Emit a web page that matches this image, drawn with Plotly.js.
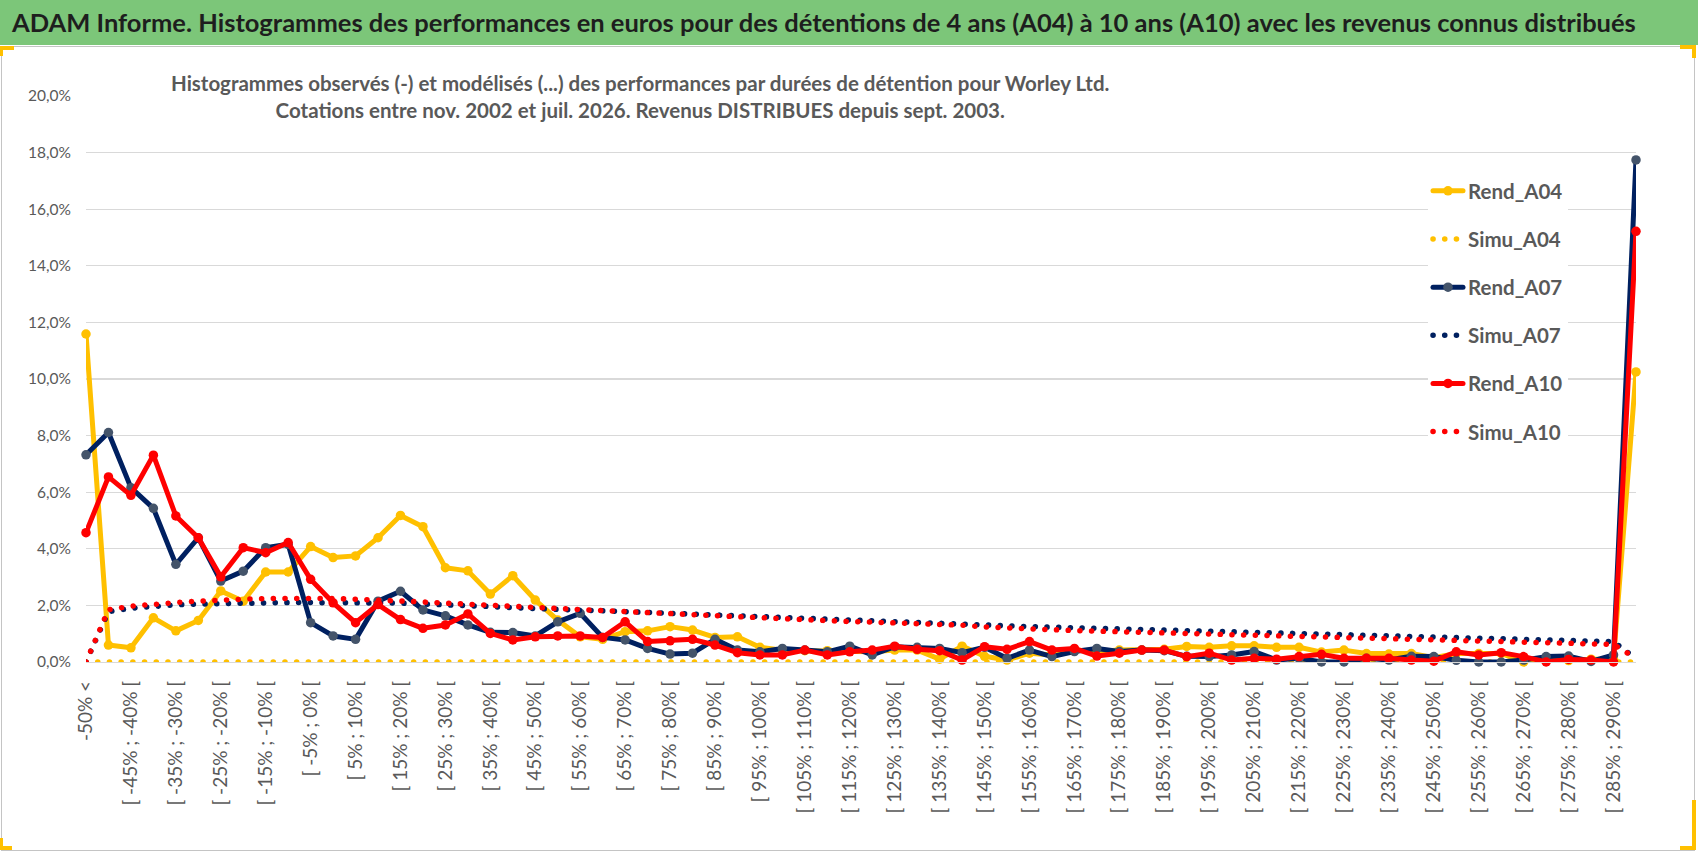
<!DOCTYPE html>
<html>
<head>
<meta charset="utf-8">
<script src="https://cdn.plot.ly/plotly-3.0.1.min.js"></script>
<style>
  html, body { margin: 0; padding: 0; background: #ffffff; }
  #wrap { position: relative; width: 1698px; height: 854px; overflow: hidden; background: #ffffff; }
  #band { position: absolute; left: 0; top: 0; width: 1698px; height: 45px; background: #7cc679; }
  #frame { position: absolute; left: 1px; top: 46px; width: 1692px; height: 803px; border: 1.5px solid #c4c4c4; }
  .corner { position: absolute; background: #ffc000; }
  #chart { position: absolute; left: 0; top: 0; width: 1698px; height: 854px; }
  .js-line { stroke-linecap: round; stroke-linejoin: round; }
</style>
</head>
<body>
<div id="wrap">
  <div id="band"></div>
  <div id="frame"></div>
  <div class="corner" style="left:0;top:46px;width:14px;height:4px;"></div>
  <div class="corner" style="left:0;top:46px;width:3px;height:10px;"></div>
  <div class="corner" style="left:1680px;top:45px;width:16px;height:4px;"></div>
  <div class="corner" style="left:1692px;top:45px;width:4px;height:13px;"></div>
  <div class="corner" style="left:0;top:846px;width:12px;height:4px;"></div>
  <div class="corner" style="left:0;top:838px;width:3px;height:12px;"></div>
  <div class="corner" style="left:1680px;top:846px;width:16px;height:4px;"></div>
  <div class="corner" style="left:1692px;top:800px;width:4px;height:50px;"></div>
  <div id="chart"></div>
</div>
<script>
const categories = [
  "-50% <", "[ -50% ; -45% [", "[ -45% ; -40% [", "[ -40% ; -35% [", "[ -35% ; -30% [",
  "[ -30% ; -25% [", "[ -25% ; -20% [", "[ -20% ; -15% [", "[ -15% ; -10% [", "[ -10% ; -5% [",
  "[ -5% ; 0% [", "[ 0% ; 5% [", "[ 5% ; 10% [", "[ 10% ; 15% [", "[ 15% ; 20% [",
  "[ 20% ; 25% [", "[ 25% ; 30% [", "[ 30% ; 35% [", "[ 35% ; 40% [", "[ 40% ; 45% [",
  "[ 45% ; 50% [", "[ 50% ; 55% [", "[ 55% ; 60% [", "[ 60% ; 65% [", "[ 65% ; 70% [",
  "[ 70% ; 75% [", "[ 75% ; 80% [", "[ 80% ; 85% [", "[ 85% ; 90% [", "[ 90% ; 95% [",
  "[ 95% ; 100% [", "[ 100% ; 105% [", "[ 105% ; 110% [", "[ 110% ; 115% [", "[ 115% ; 120% [",
  "[ 120% ; 125% [", "[ 125% ; 130% [", "[ 130% ; 135% [", "[ 135% ; 140% [", "[ 140% ; 145% [",
  "[ 145% ; 150% [", "[ 150% ; 155% [", "[ 155% ; 160% [", "[ 160% ; 165% [", "[ 165% ; 170% [",
  "[ 170% ; 175% [", "[ 175% ; 180% [", "[ 180% ; 185% [", "[ 185% ; 190% [", "[ 190% ; 195% [",
  "[ 195% ; 200% [", "[ 200% ; 205% [", "[ 205% ; 210% [", "[ 210% ; 215% [", "[ 215% ; 220% [",
  "[ 220% ; 225% [", "[ 225% ; 230% [", "[ 230% ; 235% [", "[ 235% ; 240% [", "[ 240% ; 245% [",
  "[ 245% ; 250% [", "[ 250% ; 255% [", "[ 255% ; 260% [", "[ 260% ; 265% [", "[ 265% ; 270% [",
  "[ 270% ; 275% [", "[ 275% ; 280% [", "[ 280% ; 285% [", "[ 285% ; 290% [", "> 290%"
];

// values in %
const rendA04 = [
  11.59, 0.60, 0.50, 1.56, 1.10, 1.47, 2.51, 2.15, 3.18, 3.18,
  4.08, 3.69, 3.75, 4.39, 5.18, 4.78, 3.33, 3.22, 2.40, 3.05,
  2.19, 1.48, 0.89, 0.80, 1.07, 1.10, 1.25, 1.13, 0.87, 0.89,
  0.52, 0.42, 0.40, 0.40, 0.40, 0.36, 0.42, 0.42, 0.10, 0.56,
  0.20, 0.07, 0.31, 0.25, 0.42, 0.37, 0.42, 0.42, 0.45, 0.55,
  0.52, 0.57, 0.57, 0.52, 0.52, 0.35, 0.42, 0.30, 0.28, 0.30,
  0.15, 0.30, 0.30, 0.30, 0.00, 0.10, 0.05, 0.10, 0.10, 10.25
];
const simuA04 = [
  0, 0, 0, 0, 0, 0, 0, 0, 0, 0,
  0, 0, 0, 0, 0, 0, 0, 0, 0, 0,
  0, 0, 0, 0, 0, 0, 0, 0, 0, 0,
  0, 0, 0, 0, 0, 0, 0, 0, 0, 0,
  0, 0, 0, 0, 0, 0, 0, 0, 0, 0,
  0, 0, 0, 0, 0, 0, 0, 0, 0, 0,
  0, 0, 0, 0, 0, 0, 0, 0, 0, 0
];
const rendA07 = [
  7.32, 8.11, 6.16, 5.43, 3.45, 4.39, 2.86, 3.21, 4.04, 4.16,
  1.39, 0.92, 0.80, 2.15, 2.50, 1.84, 1.63, 1.31, 1.05, 1.04,
  0.92, 1.42, 1.72, 0.87, 0.78, 0.48, 0.28, 0.31, 0.80, 0.42,
  0.36, 0.48, 0.42, 0.36, 0.56, 0.25, 0.54, 0.52, 0.48, 0.33,
  0.52, 0.13, 0.42, 0.19, 0.37, 0.48, 0.37, 0.42, 0.40, 0.20,
  0.19, 0.25, 0.37, 0.07, 0.13, 0.00, 0.00, 0.13, 0.07, 0.20,
  0.19, 0.06, 0.00, 0.00, 0.07, 0.19, 0.21, 0.02, 0.25, 17.74
];
const simuA07 = [
  0.00, 1.78, 1.90, 1.97, 2.02, 2.05, 2.07, 2.08, 2.09, 2.10,
  2.10, 2.10, 2.10, 2.10, 2.08, 2.05, 2.03, 2.00, 1.96, 1.92,
  1.88, 1.85, 1.83, 1.81, 1.78, 1.74, 1.70, 1.67, 1.63, 1.60,
  1.57, 1.54, 1.51, 1.49, 1.46, 1.43, 1.41, 1.38, 1.36, 1.33,
  1.30, 1.27, 1.25, 1.23, 1.21, 1.18, 1.16, 1.14, 1.11, 1.09,
  1.07, 1.05, 1.03, 1.01, 0.98, 0.96, 0.94, 0.93, 0.91, 0.89,
  0.87, 0.85, 0.84, 0.83, 0.81, 0.79, 0.77, 0.76, 0.72, 0.12
];
const rendA10 = [
  4.57, 6.54, 5.89, 7.31, 5.16, 4.39, 3.01, 4.04, 3.86, 4.22,
  2.92, 2.09, 1.39, 2.03, 1.50, 1.19, 1.31, 1.70, 1.01, 0.78,
  0.89, 0.92, 0.92, 0.87, 1.42, 0.72, 0.75, 0.80, 0.60, 0.33,
  0.25, 0.25, 0.42, 0.25, 0.36, 0.42, 0.56, 0.45, 0.40, 0.07,
  0.54, 0.45, 0.72, 0.42, 0.48, 0.21, 0.31, 0.42, 0.42, 0.19,
  0.31, 0.07, 0.13, 0.10, 0.19, 0.27, 0.13, 0.13, 0.13, 0.07,
  0.03, 0.36, 0.25, 0.33, 0.19, 0.00, 0.09, 0.07, 0.00, 15.22
];
const simuA10 = [
  0.00, 1.85, 1.97, 2.05, 2.10, 2.15, 2.20, 2.22, 2.24, 2.25,
  2.25, 2.24, 2.22, 2.20, 2.15, 2.12, 2.08, 2.05, 2.03, 1.97,
  1.93, 1.89, 1.86, 1.82, 1.78, 1.75, 1.72, 1.68, 1.64, 1.60,
  1.56, 1.53, 1.50, 1.47, 1.43, 1.41, 1.39, 1.37, 1.35, 1.30,
  1.24, 1.20, 1.17, 1.14, 1.11, 1.09, 1.07, 1.05, 1.04, 1.00,
  0.97, 0.94, 0.92, 0.90, 0.88, 0.86, 0.84, 0.82, 0.80, 0.78,
  0.77, 0.76, 0.74, 0.72, 0.70, 0.67, 0.66, 0.64, 0.62, 0.13
];
const yTicks = [0, 2, 4, 6, 8, 10, 12, 14, 16, 18, 20];
const yTickLabels = ["0,0%", "2,0%", "4,0%", "6,0%", "8,0%", "10,0%", "12,0%", "14,0%", "16,0%", "18,0%", "20,0%"];

const titleText = "ADAM Informe. Histogrammes des performances en euros pour des détentions de 4 ans (A04) à 10 ans (A10) avec les revenus connus distribués";
const subTitle = "Histogrammes observés (-) et modélisés (...) des performances par durées de détention pour Worley Ltd.<br>Cotations entre nov. 2002 et juil. 2026. Revenus DISTRIBUES depuis sept. 2003.";

const xIdx = categories.map((c, i) => i);
const labelIdx = xIdx.filter(i => i % 2 === 0 && i < categories.length - 1);
const gridIdx = xIdx.filter(i => i % 4 === 0);

const GOLD = "#ffc000", NAVY = "#002060", SLATE = "#44546a", RED = "#ff0000";
const DOTS = "0.1px,11.6px";
const FONT = "Lato, 'Open Sans', sans-serif";

function rend(name, y, lineColor, markerColor) {
  return {
    type: "scatter", mode: "lines+markers", name: name, x: xIdx, y: y,
    legendgroup: name, cliponaxis: false,
    line: { color: lineColor, width: 5 },
    marker: { color: markerColor, size: 9.5, line: { width: 0 } }
  };
}
function simu(name, y, color) {
  return {
    type: "scatter", mode: "lines", name: name, x: xIdx, y: y,
    legendgroup: name, cliponaxis: false,
    line: { color: color, width: 5.5, dash: DOTS }
  };
}

const data = [
  rend("Rend_A04", rendA04, GOLD, GOLD),
  simu("Simu_A04", simuA04, GOLD),
  rend("Rend_A07", rendA07, NAVY, SLATE),
  simu("Simu_A07", simuA07, NAVY),
  rend("Rend_A10", rendA10, RED, RED),
  simu("Simu_A10", simuA10, RED)
];

const L = 86, R = 62, T = 96, B = 192, W = 1698, H = 854;
const pw = W - L - R, ph = H - T - B;
const px = v => (v - L) / pw;
const py = v => (H - B - v) / ph;

const layout = {
  width: W, height: H,
  margin: { l: L, r: R, t: T, b: B, pad: 0 },
  paper_bgcolor: "rgba(0,0,0,0)",
  plot_bgcolor: "#ffffff",
  separators: ", ",
  showlegend: true,
  title: {
    text: titleText, xref: "container", yref: "container",
    x: 12 / W, xanchor: "left", y: 1 - 23 / H, yanchor: "middle",
    font: { family: FONT, size: 25.5, weight: "bold", color: "#1e1e1e" }
  },
  xaxis: {
    type: "linear", range: [0, categories.length - 1], fixedrange: true,
    tickmode: "array", tickvals: labelIdx, ticktext: labelIdx.map(i => categories[i]),
    tickangle: -90, ticks: "", ticklabelstandoff: 10,
    tickfont: { family: FONT, size: 19, color: "#595959" },
    showgrid: false, zeroline: false,
    showline: true, linecolor: "#d9d9d9", linewidth: 1.3
  },
  xaxis2: {
    type: "linear", overlaying: "x", anchor: "y", side: "bottom",
    range: [0, categories.length - 1], fixedrange: true,
    tickmode: "array", tickvals: gridIdx, showticklabels: false, ticks: "",
    showgrid: true, gridcolor: "#d9d9d9", gridwidth: 1.3,
    zeroline: false, showline: false
  },
  yaxis: {
    range: [0, 20], fixedrange: true,
    tickmode: "array", tickvals: yTicks, ticktext: yTickLabels,
    ticks: "", ticklabelstandoff: 14,
    tickfont: { family: FONT, size: 15.5, color: "#595959" },
    showgrid: true, gridcolor: "#d9d9d9", gridwidth: 1.3,
    zeroline: false, showline: false
  },
  legend: {
    x: px(1428), xanchor: "left", y: py(171), yanchor: "top",
    bgcolor: "#ffffff", borderwidth: 0,
    traceorder: "grouped", tracegroupgap: 18.5,
    font: { family: FONT, size: 20.5, weight: "bold", color: "#595959" }
  },
  shapes: [{
    type: "rect", layer: "between", xref: "paper", yref: "paper",
    x0: px(1363), x1: px(1617), y0: py(452), y1: py(167),
    fillcolor: "#ffffff", line: { width: 0 }
  }],
  annotations: [{
    text: subTitle, xref: "paper", yref: "paper",
    x: px(640), y: py(96), xanchor: "center", yanchor: "middle",
    showarrow: false, align: "center", bgcolor: "#ffffff", borderpad: 6,
    font: { family: FONT, size: 20.5, weight: "bold", color: "#595959" }
  }]
};

Plotly.newPlot("chart", data, layout, { staticPlot: true, displayModeBar: false });
</script>
</body>
</html>
